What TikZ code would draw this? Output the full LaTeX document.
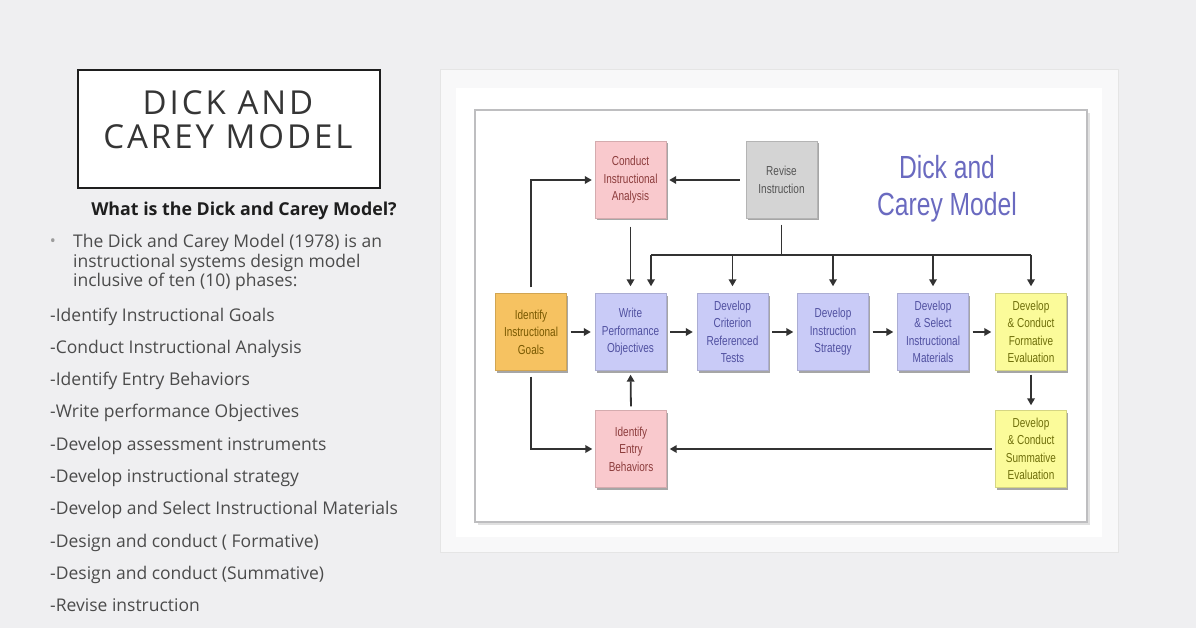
\documentclass[tikz,border=0pt]{standalone}
\usepackage{fontspec}
\setmainfont{Open Sans}
\newfontfamily\titlefont[LetterSpace=9]{Open Sans}
\newfontfamily\narrowfont[FakeStretch=0.77]{Liberation Sans}
\usetikzlibrary{arrows.meta,shadows}
\definecolor{bgcol}{RGB}{239,239,241}
\definecolor{panelcol}{RGB}{248,248,249}
\definecolor{framecol}{RGB}{190,190,192}
\definecolor{arrcol}{RGB}{50,50,50}
\definecolor{bodycol}{RGB}{75,75,75}
\definecolor{headcol}{RGB}{30,30,30}
\definecolor{pinkfill}{RGB}{249,201,205}
\definecolor{pinktext}{RGB}{140,60,60}
\definecolor{grayfill}{RGB}{212,212,212}
\definecolor{graytext}{RGB}{85,85,85}
\definecolor{orangefill}{RGB}{246,194,97}
\definecolor{orangetext}{RGB}{120,88,0}
\definecolor{lavfill}{RGB}{201,203,247}
\definecolor{lavtext}{RGB}{80,80,160}
\definecolor{yelfill}{RGB}{251,251,154}
\definecolor{yeltext}{RGB}{110,110,10}
\definecolor{titleblue}{RGB}{106,106,192}
\tikzset{
  stagebox/.style={rectangle, minimum width=71pt, minimum height=77pt, inner sep=0pt, align=center,
    font=\narrowfont\fontsize{13}{17.5}\selectfont,
    drop shadow={shadow xshift=1.5pt, shadow yshift=-2pt, opacity=0.35, fill=black}},
  pinkbox/.style={stagebox, fill=pinkfill, draw=pinkfill!85!black, text=pinktext},
  graybox/.style={stagebox, fill=grayfill, draw=grayfill!85!black, text=graytext},
  orangebox/.style={stagebox, fill=orangefill, draw=orangefill!85!black, text=orangetext},
  lavbox/.style={stagebox, fill=lavfill, draw=lavfill!85!black, text=lavtext},
  yelbox/.style={stagebox, fill=yelfill, draw=yelfill!85!black, text=yeltext},
  link/.style={draw=arrcol, line width=1.8pt},
  arr/.style={link, -{Triangle[length=7pt,width=7.5pt]}},
  bodytext/.style={anchor=base west, inner sep=0pt, text=bodycol, font=\fontsize{17.5}{19.5}\selectfont},
}
\begin{document}
\begin{tikzpicture}[x=1pt,y=-1pt]
\useasboundingbox (0,0) rectangle (1196,628);
\fill[bgcol] (0,0) rectangle (1196,628);

% ---------- left column ----------
\node[draw=headcol, line width=2pt, fill=white, minimum width=302pt, minimum height=118pt, inner sep=0pt] (titlebox) at (229,129) {};
\node[anchor=base, inner sep=0pt, text=headcol!90, font=\titlefont\fontsize{33}{36}\selectfont] (t1) at (228,115) {DICK AND};
\node[anchor=base, inner sep=0pt, text=headcol!90, font=\titlefont\fontsize{33}{36}\selectfont] (t2) at (228,149) {CAREY MODEL};
\node[anchor=base, inner sep=0pt, text=headcol, font=\bfseries\fontsize{17.8}{20}\selectfont] (q) at (244,216) {What is the Dick and Carey Model?};
\node[anchor=base, inner sep=0pt, text=bodycol!55, font=\fontsize{16}{18}\selectfont] (bul) at (53,247) {•};
\node[bodytext] (p1) at (73,248) {The Dick and Carey Model (1978) is an};
\node[bodytext] (p2) at (73,267.5) {instructional systems design model};
\node[bodytext] (p3) at (73,287) {inclusive of ten (10) phases:};
\node[bodytext] (l1) at (50,321) {-Identify Instructional Goals};
\node[bodytext] (l2) at (50,353.3) {-Conduct Instructional Analysis};
\node[bodytext] (l3) at (50,385.6) {-Identify Entry Behaviors};
\node[bodytext] (l4) at (50,417.9) {-Write performance Objectives};
\node[bodytext] (l5) at (50,450.2) {-Develop assessment instruments};
\node[bodytext] (l6) at (50,482.5) {-Develop instructional strategy};
\node[bodytext] (l7) at (50,514.8) {-Develop and Select Instructional Materials};
\node[bodytext] (l8) at (50,547.1) {-Design and conduct ( Formative)};
\node[bodytext] (l9) at (50,579.4) {-Design and conduct (Summative)};
\node[bodytext] (l10) at (50,611.7) {-Revise instruction};

% ---------- right panel ----------
\filldraw[fill=panelcol, draw=white!90!black, line width=1pt] (440,70) rectangle (1118,552);
\fill[white] (456,88) rectangle (1102,537);
\fill[black!12] (478,113) rectangle (1090,525);
\filldraw[fill=white, draw=framecol, line width=2pt] (475,110) rectangle (1087,522);

\node[anchor=base, inner sep=0pt, text=titleblue, font=\narrowfont\fontsize{32}{37}\selectfont] (h1) at (947,179) {Dick and};
\node[anchor=base, inner sep=0pt, text=titleblue, font=\narrowfont\fontsize{32}{37}\selectfont] (h2) at (947,216) {Carey Model};

\node[pinkbox] (conduct) at (630.5,180) {Conduct\\Instructional\\Analysis};
\node[graybox] (revise) at (781.5,180) {Revise\\Instruction};
\node[orangebox] (goals) at (531,332) {Identify\\Instructional\\Goals};
\node[lavbox] (write) at (630.5,332) {Write\\Performance\\Objectives};
\node[lavbox] (crit) at (732.5,332) {Develop\\Criterion\\Referenced\\Tests};
\node[lavbox] (strat) at (833,332) {Develop\\Instruction\\Strategy};
\node[lavbox] (mat) at (933,332) {Develop\\\& Select\\Instructional\\Materials};
\node[yelbox] (form) at (1031,332) {Develop\\\& Conduct\\Formative\\Evaluation};
\node[yelbox] (summ) at (1031,449) {Develop\\\& Conduct\\Summative\\Evaluation};
\node[pinkbox] (entry) at (631,449) {Identify\\Entry\\Behaviors};

% connectors
\draw[arr, shorten <=6pt, shorten >=3pt] (goals.north) |- (conduct.west);
\draw[arr, shorten <=6pt, shorten >=3pt] (revise.west) -- (conduct.east);
\draw[arr, shorten <=8pt, shorten >=7pt] (conduct.south) -- (write.north);
\coordinate (bus) at (781.5,255);
\coordinate (bw) at (651,255);
\coordinate (be) at (1031,255);
\draw[link, shorten <=6pt] (revise.south) -- (bus);
\draw[link] (bw) -- (be);
\draw[arr, shorten >=7pt] (bw) -- (bw |- write.north);
\draw[arr, shorten >=7pt] (bus -| crit.north) -- (crit.north);
\draw[arr, shorten >=7pt] (bus -| strat.north) -- (strat.north);
\draw[arr, shorten >=7pt] (bus -| mat.north) -- (mat.north);
\draw[arr, shorten >=7pt] (be) -- (form.north);
\draw[arr, shorten <=4pt, shorten >=4pt] (goals.east) -- (write.west);
\draw[arr, shorten <=4pt, shorten >=4pt] (write.east) -- (crit.west);
\draw[arr, shorten <=4pt, shorten >=4pt] (crit.east) -- (strat.west);
\draw[arr, shorten <=4pt, shorten >=4pt] (strat.east) -- (mat.west);
\draw[arr, shorten <=4pt, shorten >=4pt] (mat.east) -- (form.west);
\draw[arr, shorten <=4pt, shorten >=5pt] (form.south) -- (summ.north);
\draw[arr, shorten <=3pt, shorten >=3pt] (summ.west) -- (entry.east);
\draw[arr, shorten <=6pt, shorten >=3pt] (goals.south) |- (entry.west);
\draw[arr, shorten <=4pt, shorten >=4pt] (entry.north) -- (write.south);
\end{tikzpicture}
\end{document}
